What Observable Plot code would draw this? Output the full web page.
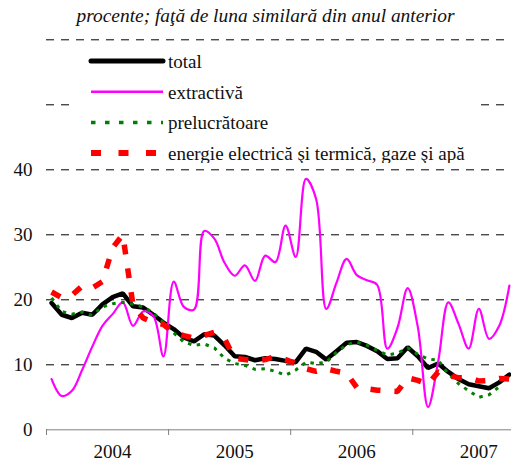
<!DOCTYPE html>
<html><head><meta charset="utf-8">
<script src="https://cdn.jsdelivr.net/npm/d3@7"></script>
<script src="https://cdn.jsdelivr.net/npm/@observablehq/plot@0.6"></script>
<style>
body{margin:0;background:#fff}
#wrap{position:relative;width:511px;height:461px;font-family:"Liberation Serif",serif;overflow:hidden}
#chart{position:absolute;left:0;top:0}
#title{position:absolute;left:0;top:5px;width:531px;text-align:center;font-family:"Liberation Serif",serif;font-style:italic;font-size:19.4px;line-height:22px;color:#111;z-index:2}
#legend{position:absolute;left:70px;top:45px;width:410px;height:118px;background:#fff;z-index:2}
</style></head>
<body>
<div id="wrap">
  <div id="title">procente; faţă de luna similară din anul anterior</div>
  <div id="chart"></div>
  <div id="legend"></div>
</div>
<script>
const years = ["2004", "2005", "2006", "2007"];
const yearStart = [0, 12, 24, 36];
const yearMid = [6, 18, 30, 42];
const yTicks = [0, 10, 20, 30, 40];
const gridValues = [10, 20, 30, 40, 50, 60];
const seriesNames = ["total", "extractivă", "prelucrătoare", "energie electrică şi termică, gaze şi apă"];

// monthly values, Jan 2004 onward
const total = [19.5, 17.7, 17.2, 18.0, 17.7, 19.3, 20.4, 21.0, 19.0, 18.8, 17.7, 16.5,
  15.5, 14.2, 13.6, 14.7, 14.5, 13.0, 11.3, 11.2, 10.7, 11.0, 10.9, 10.6,
  10.4, 12.5, 12.0, 10.8, 12.1, 13.4, 13.5, 12.9, 12.1, 10.9, 11.0, 12.7,
  11.3, 9.5, 10.2, 8.9, 7.8, 7.0, 6.7, 6.4, 7.3, 8.5];
const extractiva = [7.8, 5.2, 6.0, 9.2, 12.8, 16.0, 17.8, 19.6, 16.0, 18.2, 17.5, 11.3,
  22.8, 18.9, 18.5, 30.6, 29.4, 25.7, 23.7, 25.3, 22.9, 26.8, 25.8, 31.4,
  26.6, 38.6, 35.5, 18.6, 22.6, 26.3, 23.8, 23.0, 22.3, 12.5, 15.7, 21.8,
  15.8, 3.5, 10.5, 19.6, 16.3, 12.5, 18.6, 14.0, 16.0, 22.2];
const prelucratoare = [20.3, 18.2, 17.8, 18.1, 17.6, 18.9, 19.4, 19.6, 19.3, 18.9, 18.0, 16.5,
  14.9, 13.5, 13.0, 13.2, 12.6, 11.0, 10.2, 9.9, 9.3, 9.4, 9.0, 8.4,
  9.2, 10.4, 10.2, 10.4, 11.9, 13.1, 13.5, 13.0, 12.2, 11.5, 11.8, 12.6,
  11.6, 10.9, 10.7, 8.6, 7.1, 6.0, 5.0, 5.4, 6.6];
const energie = [21.2, 20.3, 20.7, 22.1, 21.8, 22.8, 28.0, 30.0, 19.2, 17.2, 16.5, 16.2,
  15.0, 14.5, 14.1, 14.5, 15.0, 14.0, 11.0, 10.8, 10.6, 10.8, 11.3, 10.8,
  10.2, 9.4, 9.0, 9.4, 9.0, 8.7, 6.5, 6.3, 6.1, 6.0, 5.9, 8.0,
  7.6, 7.0, 8.9, 8.4, 8.0, 8.0, 7.5, 7.6, 7.9, 7.8];

const rows = (vals) => vals.map((v, i) => ({x: i + 0.5, y: v}));

const chart = Plot.plot({
  width: 511,
  height: 461,
  marginLeft: 46,
  marginRight: 0,
  marginTop: 39,
  marginBottom: 32,
  style: {fontFamily: "'Liberation Serif', serif", fontSize: "19px", background: "transparent", color: "#111"},
  x: {domain: [0, 46], range: [46, 514]},
  y: {domain: [0, 60], range: [429.3, 39.3]},
  marks: [
    Plot.ruleY(gridValues, {stroke: "#000", strokeWidth: 1, strokeDasharray: "8,7"}),
    Plot.line(rows(total), {x: "x", y: "y", stroke: "#000", strokeWidth: 4.5, strokeLinejoin: "miter"}),
    Plot.line(rows(extractiva), {x: "x", y: "y", stroke: "#ff00ff", strokeWidth: 2.2, curve: "catmull-rom"}),
    Plot.line(rows(prelucratoare), {x: "x", y: "y", stroke: "#008000", strokeWidth: 3, strokeDasharray: "3.5,5.5", strokeLinecap: "butt"}),
    Plot.line(rows(energie), {x: "x", y: "y", stroke: "#ff0000", strokeWidth: 5.5, strokeDasharray: "10,14", strokeLinecap: "butt", strokeLinejoin: "miter"}),
    Plot.ruleY([0], {stroke: "#808080", strokeWidth: 1}),
    Plot.axisX(yearStart, {tickSize: 6, stroke: "#808080", tickFormat: () => "", label: null}),
    Plot.axisX(yearMid, {tickSize: 0, tickPadding: 15, dx: 5, fontSize: 19, tickFormat: d => years[yearMid.indexOf(d)], label: null}),
    Plot.axisY(yTicks, {tickSize: 0, tickPadding: 14, fontSize: 19, label: null})
  ]
});
document.getElementById("chart").appendChild(chart);

// legend
const lg = d3.select("#legend").append("svg").attr("width", 410).attr("height", 118)
  .style("font-family", "'Liberation Serif', serif").style("font-size", "19px");
const styles = [
  {stroke: "#000", w: 5, dash: null, cap: "round"},
  {stroke: "#ff00ff", w: 2.5, dash: null, cap: "butt"},
  {stroke: "#008000", w: 3.5, dash: "4.5,9.5", cap: "butt"},
  {stroke: "#ff0000", w: 6, dash: "10,17.5", cap: "butt"}
];
seriesNames.forEach((name, i) => {
  const cy = 16 + i * 30.7;
  const s = styles[i];
  lg.append("line").attr("x1", 21).attr("x2", 93).attr("y1", cy).attr("y2", cy)
    .attr("stroke", s.stroke).attr("stroke-width", s.w)
    .attr("stroke-linecap", s.cap).attr("stroke-dasharray", s.dash);
  lg.append("text").attr("x", 98).attr("y", cy + 7).attr("fill", "#111").text(name);
});
</script>
</body></html>
